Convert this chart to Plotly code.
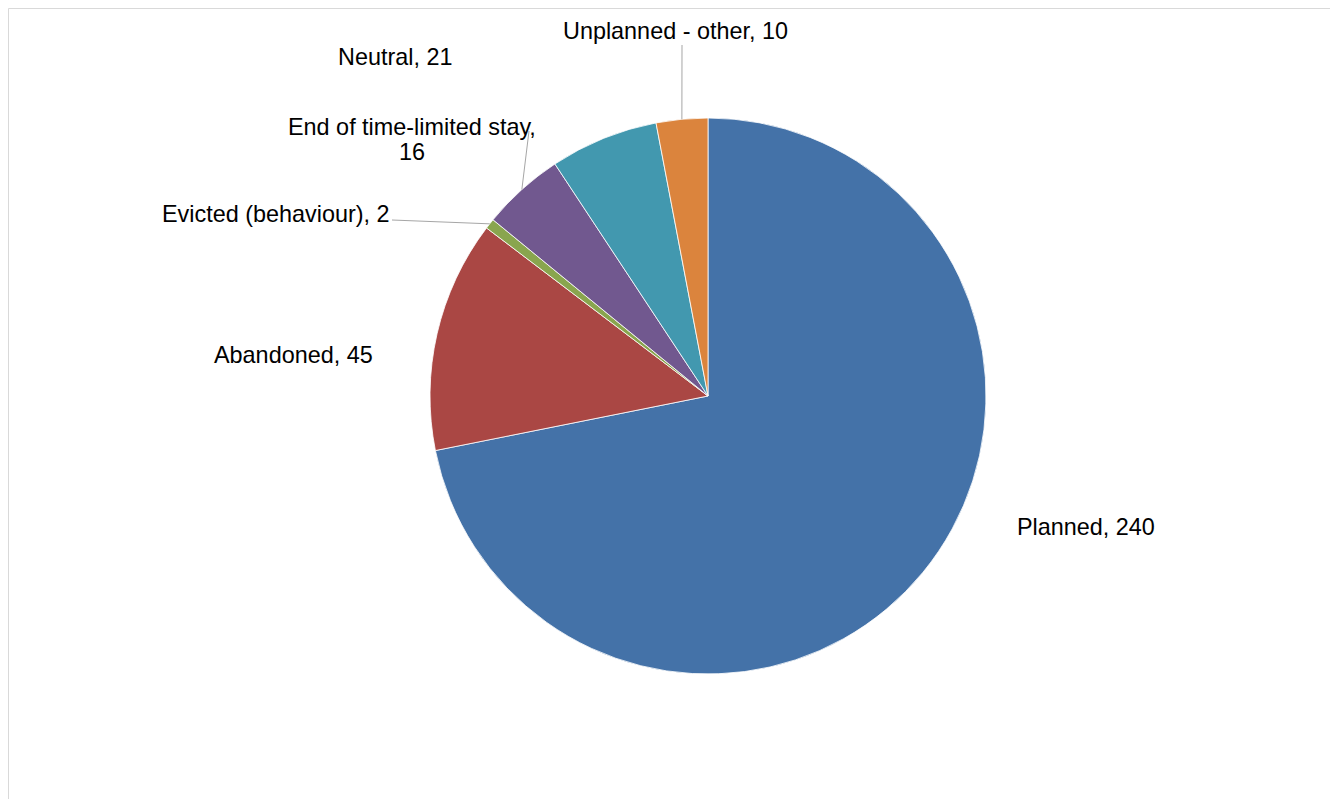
import math
import plotly.graph_objects as go

# ---- data ----
categories = ["Planned", "Abandoned", "Evicted (behaviour)", "End of time-limited stay",
              "Neutral", "Unplanned - other"]
values = [240, 45, 2, 16, 21, 10]
colors = ["#4472A8", "#AA4744", "#89A54E", "#71588F", "#4298AF", "#DB843D"]
label_lines = [["Planned, 240"], ["Abandoned, 45"], ["Evicted (behaviour), 2"],
               ["End of time-limited stay,", "16"], ["Neutral, 21"], ["Unplanned - other, 10"]]

# page has an 8px body margin; work in window pixels and shift into figure pixels
OFF = 8
W, H = 1338 - OFF, 799 - OFF
# pie geometry (window pixels)
CX, CY, R = 708, 396, 278
LINE_H = 25

# label placement (window pixel centers) and leader-line start points (None = no line)
label_pos = [(1086, 527), (293, 355), (276, 214), (412, 139.5), (395, 57), (675, 31)]
leader_start = [None, None, (392, 220), (529, 131), None, (682, 45)]


def px2paper(x, y):
    return (x - OFF) / W, 1 - (y - OFF) / H


fig = go.Figure()
x0p, _ = px2paper(CX - R, 0)
x1p, _ = px2paper(CX + R, 0)
_, y1p = px2paper(0, CY - R)
_, y0p = px2paper(0, CY + R)
fig.add_trace(go.Pie(
    labels=categories, values=values, sort=False, direction="clockwise", rotation=0,
    marker=dict(colors=colors, line=dict(color="white", width=0.8)),
    textinfo="none", hoverinfo="label+value", showlegend=False,
    domain=dict(x=[x0p, x1p], y=[y0p, y1p]),
))

total = sum(values)
cum = 0
shapes = []
annotations = []
for i, v in enumerate(values):
    mid = (cum + v / 2) / total * 2 * math.pi
    cum += v
    ex = CX + R * math.sin(mid)
    ey = CY - R * math.cos(mid)
    lx, ly = label_pos[i]
    n = len(label_lines[i])
    for k, line in enumerate(label_lines[i]):
        yy = ly + (k - (n - 1) / 2) * LINE_H
        px_, py_ = px2paper(lx, yy)
        annotations.append(dict(
            x=px_, y=py_, xref="paper", yref="paper", text=line, showarrow=False,
            xanchor="center", yanchor="middle", align="center",
            font=dict(family="Liberation Sans, Arial, sans-serif", size=23.4, color="#000000"),
        ))
    if leader_start[i] is not None:
        sx, sy = px2paper(*leader_start[i])
        exp, eyp = px2paper(ex, ey)
        shapes.append(dict(type="line", xref="paper", yref="paper", x0=sx, y0=sy, x1=exp, y1=eyp,
                           line=dict(color="#A6A6A6", width=1)))

# chart border (top and left visible)
bx, by = px2paper(8.5, 8.5)
shapes.append(dict(type="rect", xref="paper", yref="paper", x0=bx, y0=-0.01, x1=1.01,
                   y1=by, line=dict(color="#D9D9D9", width=1)))

fig.update_layout(
    width=W, height=H, margin=dict(l=0, r=0, t=0, b=0),
    paper_bgcolor="white", plot_bgcolor="white",
    shapes=shapes, annotations=annotations,
)
fig.write_html("out.html")
